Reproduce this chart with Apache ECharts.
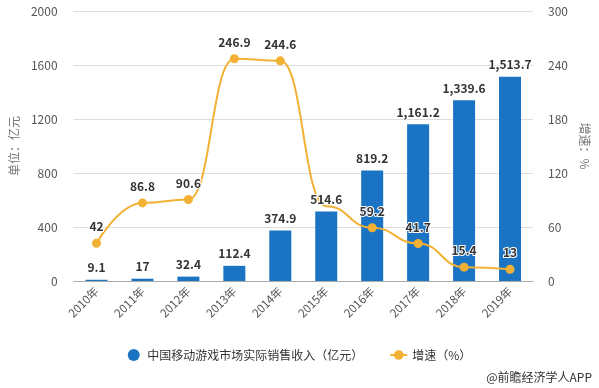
<!DOCTYPE html>
<html><head><meta charset="utf-8">
<script src="https://cdn.jsdelivr.net/npm/echarts@6/dist/echarts.min.js"></script>
<style>html,body{margin:0;padding:0;background:#fff}#c{width:599px;height:388px}</style>
</head><body><div id="c"></div>
<script>
var categories = ['2010年','2011年','2012年','2013年','2014年','2015年','2016年','2017年','2018年','2019年'];
var revenue = [9.1, 17, 32.4, 112.4, 374.9, 514.6, 819.2, 1161.2, 1339.6, 1513.7];
var growth = [42, 86.8, 90.6, 246.9, 244.6, 83, 59.2, 41.7, 15.4, 13];
var hiddenGrowthLabels = [5];
var leftTicks = [0, 400, 800, 1200, 1600, 2000];
var rightTicks = [0, 60, 120, 180, 240, 300];

function fmt(v){
  var s = String(v); var p = s.split('.');
  p[0] = p[0].replace(/\B(?=(\d{3})+(?!\d))/g, ',');
  return p.join('.');
}
var growthData = growth.map(function(v,i){
  if (hiddenGrowthLabels.indexOf(i) >= 0) return {value:v, symbol:'none', label:{show:false}};
  return v;
});
var font = 'Microsoft YaHei, "Noto Sans CJK SC", sans-serif';
var barName = '中国移动游戏市场实际销售收入（亿元）';
var chart = echarts.init(document.getElementById('c'));
chart.setOption({
  animation:false,
  textStyle:{fontFamily:font},
  grid:{left:68,right:66,top:11,bottom:107},
  legend:{
    bottom:22, left:'center', itemGap:26, itemWidth:17, itemHeight:12,
    textStyle:{color:'#333',fontSize:12,fontFamily:font},
    data:[{name:barName,icon:'circle'},{name:'增速（%）'}]
  },
  graphic:[{type:'text',right:7,bottom:5,style:{text:'@前瞻经济学人APP',fill:'#333',fontSize:12,fontFamily:font}}],
  xAxis:{
    type:'category', data:categories,
    axisLine:{lineStyle:{color:'#aaa'}},
    axisTick:{alignWithLabel:true,lineStyle:{color:'#aaa'}},
    axisLabel:{rotate:45,color:'#555',fontSize:11.5,margin:8}
  },
  yAxis:[{
    type:'value', min:leftTicks[0], max:leftTicks[leftTicks.length-1], interval:leftTicks[1]-leftTicks[0],
    name:'单位：亿元', nameLocation:'middle', nameGap:46, nameRotate:90,
    nameTextStyle:{color:'#777',fontSize:12},
    axisLine:{show:false}, axisTick:{show:false},
    axisLabel:{color:'#555',fontSize:12,margin:16,formatter:function(v){return String(v);}},
    splitLine:{lineStyle:{color:'#ddd'}}
  },{
    type:'value', min:rightTicks[0], max:rightTicks[rightTicks.length-1], interval:rightTicks[1]-rightTicks[0],
    name:'增速：%', nameLocation:'middle', nameGap:44, nameRotate:-90,
    nameTextStyle:{color:'#777',fontSize:12},
    axisLine:{show:false}, axisTick:{show:false},
    axisLabel:{color:'#555',fontSize:12,margin:15,formatter:function(v){return String(v);}},
    splitLine:{show:false}
  }],
  series:[{
    name:barName, type:'bar', data:revenue, barWidth:22,
    itemStyle:{color:'#1a74c3'},
    z:2
  },{
    name:'增速（%）', type:'line', yAxisIndex:1, data:growthData, smooth:0.5, smoothMonotone:'x',
    symbol:'circle', symbolSize:9,
    lineStyle:{color:'#f2b134',width:2}, itemStyle:{color:'#f2b134'},
    label:{show:true,position:'top',distance:6,color:'#333',fontWeight:'bold',fontSize:12,
      textBorderColor:'#fff',textBorderWidth:2},
    z:3
  },{
    name:'barLabels', type:'bar', data:revenue, barWidth:22, barGap:'-100%',
    itemStyle:{color:'rgba(0,0,0,0)'}, silent:true,
    label:{show:true,position:'top',distance:6,color:'#333',fontWeight:'bold',fontSize:12,
      textBorderColor:'#fff',textBorderWidth:2,formatter:function(p){return fmt(p.value);}},
    z:4
  }]
});
</script></body></html>
